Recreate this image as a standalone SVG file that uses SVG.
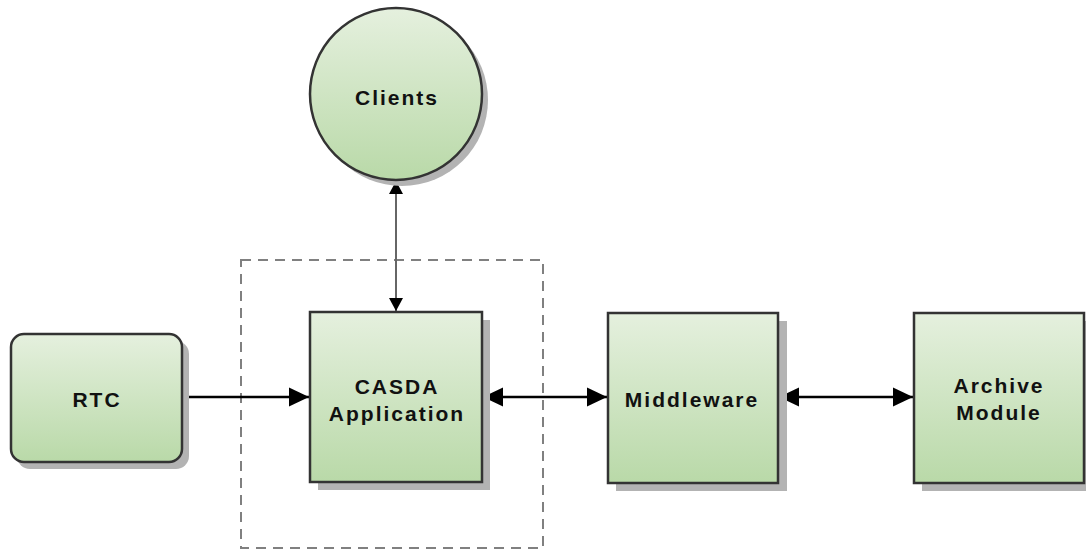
<svg xmlns="http://www.w3.org/2000/svg" width="1086" height="551" viewBox="0 0 1086 551">
<style>
.node{stroke:#333;stroke-width:2.5;fill:url(#g)}
.shadow{fill:#b3b3b3}
.lbl{font-family:"Liberation Sans",Arial,sans-serif;font-weight:bold;font-size:21px;letter-spacing:2px;fill:#111;text-anchor:middle}
.con{stroke:#000;stroke-width:2.5;fill:none}
.conv{stroke:#666;stroke-width:2;fill:none}
</style>
<defs>
<linearGradient id="g" x1="0" y1="0" x2="0" y2="1">
<stop offset="0" stop-color="#e5f0de"/>
<stop offset="1" stop-color="#b9d9a8"/>
</linearGradient>
<marker id="ah" viewBox="0 0 20 20" refX="20" refY="10" markerWidth="20" markerHeight="20" markerUnits="userSpaceOnUse" orient="auto-start-reverse">
<path d="M0,0.5 L20,10 L0,19.5 z" fill="#000"/>
</marker>
<marker id="ahs" viewBox="0 0 13 14" refX="13" refY="7" markerWidth="13" markerHeight="14" markerUnits="userSpaceOnUse" orient="auto-start-reverse">
<path d="M0,0 L13,7 L0,14 z" fill="#000"/>
</marker>
</defs>
<rect id="boundary" x="241" y="260" width="302" height="288" fill="none" stroke="#808080" stroke-width="2" stroke-dasharray="10 7"/>
<g id="connectors">
<line class="conv" x1="396" y1="181" x2="396" y2="311" marker-start="url(#ahs)" marker-end="url(#ahs)"/>
<line class="con" x1="183" y1="397" x2="309" y2="397" marker-end="url(#ah)"/>
<line class="con" x1="483" y1="397" x2="607" y2="397" marker-start="url(#ah)" marker-end="url(#ah)"/>
<line class="con" x1="779" y1="397" x2="913" y2="397" marker-start="url(#ah)" marker-end="url(#ah)"/>
</g>
<g id="clients">
<circle class="shadow" cx="402" cy="100" r="86"/>
<circle class="node" cx="396" cy="94" r="86"/>
<text class="lbl" x="397" y="105">Clients</text>
</g>
<g id="rtc">
<rect class="shadow" x="17" y="341" width="172" height="128" rx="13"/>
<rect class="node" x="11" y="334" width="171" height="128" rx="13"/>
<text class="lbl" x="97" y="407">RTC</text>
</g>
<g id="casda">
<rect class="shadow" x="318" y="320" width="172" height="170"/>
<rect class="node" x="310" y="312" width="172" height="170"/>
<text class="lbl" x="397" y="394">CASDA</text>
<text class="lbl" x="397" y="421">Application</text>
</g>
<g id="middleware">
<rect class="shadow" x="616" y="321" width="171" height="170"/>
<rect class="node" x="608" y="313" width="170" height="170"/>
<text class="lbl" x="692" y="407">Middleware</text>
</g>
<g id="archive">
<rect class="shadow" x="922" y="321" width="171" height="170"/>
<rect class="node" x="914" y="313" width="170" height="170"/>
<text class="lbl" x="999" y="393">Archive</text>
<text class="lbl" x="999" y="420">Module</text>
</g>
</svg>
